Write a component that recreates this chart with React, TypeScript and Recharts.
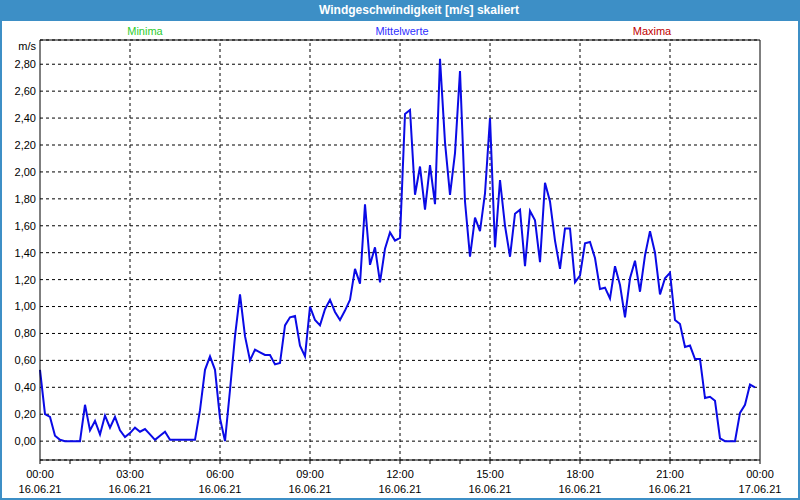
import React from "react";
import { LineChart, Line, XAxis, YAxis, CartesianGrid, ReferenceLine } from "recharts";

// 10-minute means, 16.06.21 00:00 .. 23:50
const STEP_MINUTES = 10;
const meanValues = [
	0.53, 0.2, 0.18, 0.04, 0.01, 0.0, 0.0, 0.0, 0.0, 0.27, 0.08, 0.15,
	0.05, 0.19, 0.1, 0.18, 0.08, 0.03, 0.06, 0.1, 0.07, 0.09, 0.05, 0.01,
	0.04, 0.07, 0.01, 0.01, 0.01, 0.01, 0.01, 0.01, 0.23, 0.53, 0.63, 0.53,
	0.17, 0.0, 0.38, 0.78, 1.09, 0.78, 0.6, 0.68, 0.66, 0.64, 0.64, 0.57,
	0.58, 0.86, 0.92, 0.93, 0.71, 0.63, 1.0, 0.9, 0.86, 0.98, 1.05, 0.96,
	0.9, 0.97, 1.05, 1.28, 1.17, 1.76, 1.31, 1.44, 1.18, 1.43, 1.55, 1.49,
	1.51, 2.43, 2.46, 1.83, 2.04, 1.72, 2.05, 1.76, 2.84, 2.22, 1.83, 2.14,
	2.75, 1.78, 1.37, 1.66, 1.56, 1.84, 2.4, 1.44, 1.94, 1.6, 1.37, 1.69,
	1.72, 1.3, 1.71, 1.64, 1.33, 1.92, 1.78, 1.49, 1.28, 1.58, 1.58, 1.18,
	1.23, 1.47, 1.48, 1.36, 1.13, 1.14, 1.06, 1.3, 1.16, 0.92, 1.21, 1.34,
	1.11, 1.38, 1.56, 1.4, 1.09, 1.21, 1.25, 0.9, 0.87, 0.7, 0.71, 0.61,
	0.61, 0.32, 0.33, 0.3, 0.02, 0.0, 0.0, 0.0, 0.21, 0.27, 0.42, 0.4,
];

const yTicks = [0, 0.2, 0.4, 0.6, 0.8, 1.0, 1.2, 1.4, 1.6, 1.8, 2.0, 2.2, 2.4, 2.6, 2.8];
const hourTicks = [0, 1, 2, 3, 4, 5, 6, 7, 8, 9, 10, 11, 12, 13, 14, 15, 16, 17, 18, 19, 20, 21, 22, 23, 24];
const gridHours = [3, 6, 9, 12, 15, 18, 21];
const labelHours = [0, 3, 6, 9, 12, 15, 18, 21, 24];
const labelTimes = ["00:00", "03:00", "06:00", "09:00", "12:00", "15:00", "18:00", "21:00", "00:00"];
const labelDates = ["16.06.21", "16.06.21", "16.06.21", "16.06.21", "16.06.21", "16.06.21", "16.06.21", "16.06.21", "17.06.21"];

const data = meanValues.map((v, i) => ({ hour: (i * STEP_MINUTES) / 60, value: v }));

const FONT = "'Liberation Sans', Arial, sans-serif";
const FRAME = "#3d8fc6";

function TimeTick({ x, y, payload }: { x?: number; y?: number; payload?: { value: number } }) {
	const idx = labelHours.indexOf(payload?.value ?? -1);
	if (idx < 0) return null;
	return (
		<text x={x} y={y} textAnchor="middle" fontSize={11} fontFamily={FONT} fill="#000">
			<tspan x={x} dy={12}>{labelTimes[idx]}</tspan>
			<tspan x={x} dy={15}>{labelDates[idx]}</tspan>
		</text>
	);
}

export default function App() {
	return (
		<div style={{ position: "absolute", left: 0, top: 0, width: 800, height: 500, background: "#fff", fontFamily: FONT }}>
			<LineChart width={800} height={500} data={data} margin={{ top: 40, right: 40, bottom: 0, left: 0 }}>
				<CartesianGrid vertical={false} stroke="#000" strokeDasharray="3 3" />
				{gridHours.map((h) => (
					<ReferenceLine key={h} x={h} stroke="#000" strokeDasharray="3 3" />
				))}
				<ReferenceLine x={24} stroke="#000" />
				<ReferenceLine y={2.98} stroke="#000" />
				<XAxis
					dataKey="hour"
					type="number"
					domain={[0, 24]}
					ticks={hourTicks}
					interval={0}
					height={40}
					axisLine={{ stroke: "#000" }}
					tickLine={{ stroke: "#000" }}
					tickSize={4}
					tickMargin={2}
					tick={<TimeTick />}
				/>
				<YAxis
					type="number"
					domain={[-0.14, 2.98]}
					allowDataOverflow
					ticks={yTicks}
					interval={0}
					width={40}
					axisLine={{ stroke: "#000" }}
					tickLine={false}
					tickSize={0}
					tickMargin={4}
					tick={{ fontSize: 11, fill: "#000", fontFamily: FONT }}
					tickFormatter={(v: number) => v.toFixed(2).replace(".", ",")}
				/>
				<Line type="linear" dataKey="value" stroke="#0a0ae6" strokeWidth={2} dot={false} isAnimationActive={false} />
			</LineChart>

			<div style={{ position: "absolute", left: 0, top: 0, width: 800, height: 21, background: FRAME }} />
			<div style={{ position: "absolute", left: 219, top: 0, width: 400, height: 21, lineHeight: "21px", textAlign: "center", color: "#fff", fontWeight: "bold", fontSize: 12 }}>
				Windgeschwindigkeit [m/s] skaliert
			</div>
			<div style={{ position: "absolute", left: 0, top: 0, width: 2, height: 500, background: FRAME }} />
			<div style={{ position: "absolute", left: 798, top: 0, width: 2, height: 500, background: FRAME }} />
			<div style={{ position: "absolute", left: 0, top: 498, width: 800, height: 2, background: FRAME }} />

			<div style={{ position: "absolute", left: 95, top: 25, width: 100, textAlign: "center", fontSize: 11, lineHeight: "13px", color: "#2ecc2e" }}>Minima</div>
			<div style={{ position: "absolute", left: 352, top: 25, width: 100, textAlign: "center", fontSize: 11, lineHeight: "13px", color: "#3030ff" }}>Mittelwerte</div>
			<div style={{ position: "absolute", left: 602, top: 25, width: 100, textAlign: "center", fontSize: 11, lineHeight: "13px", color: "#c00000" }}>Maxima</div>
			<div style={{ position: "absolute", left: 0, top: 40, width: 36, textAlign: "right", fontSize: 11, lineHeight: "13px", color: "#000" }}>m/s</div>
		</div>
	);
}
